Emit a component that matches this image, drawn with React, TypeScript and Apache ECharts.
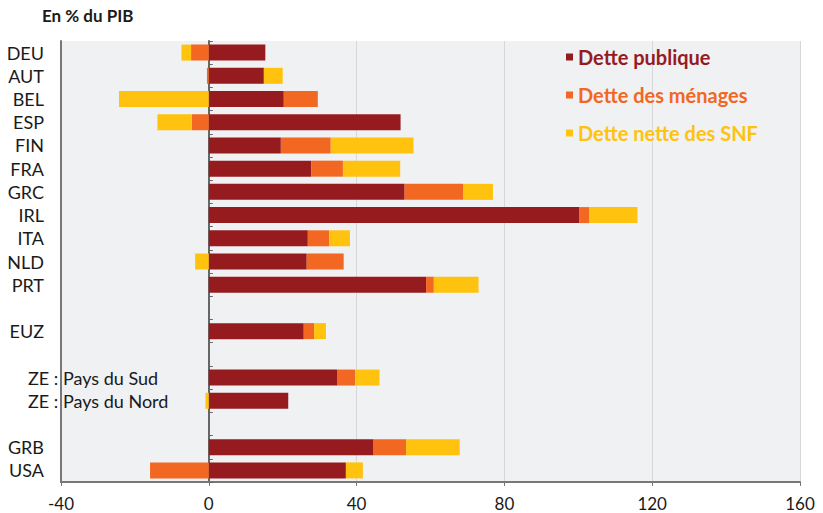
import React, { useEffect, useRef } from "react";
import * as echarts from "echarts";

const categories = [
  "DEU", "AUT", "BEL", "ESP", "FIN", "FRA", "GRC", "IRL", "ITA", "NLD", "PRT",
  " ", "EUZ", "  ", "ZE : Pays du Sud", "ZE : Pays du Nord", "   ", "GRB", "USA",
];

const dettePublique = [15.3, 14.9, 20.3, 51.9, 19.5, 27.7, 53.0, 100.2, 26.8, 26.5, 58.8, null, 25.7, null, 34.7, 21.5, null, 44.6, 37.1];
const detteMenages = [-4.8, -0.5, 9.2, -4.6, 13.5, 8.6, 15.8, 2.7, 5.8, 10.0, 2.1, null, 2.8, null, 4.9, 0, null, 8.8, -15.9];
const detteSNF = [-2.6, 5.1, -24.3, -9.3, 22.4, 15.5, 8.1, 13.1, 5.6, -3.7, 12.1, null, 3.2, null, 6.6, -0.9, null, 14.5, 4.6];

const seriesNames = ["Dette publique", "Dette des ménages", "Dette nette des SNF"];
const colors = ["#961B1F", "#F26722", "#FFC20E"];

const FONT = "Lato, 'DejaVu Sans', sans-serif";

export default function App() {
  const ref = useRef<HTMLDivElement>(null);

  useEffect(() => {
    if (!ref.current) return;
    const chart = echarts.init(ref.current, null, { renderer: "svg" });
    const dataSets = [dettePublique, detteMenages, detteSNF];
    chart.setOption({
      animation: false,
      textStyle: { fontFamily: FONT },
      title: {
        text: "En % du PIB",
        left: 42,
        top: 7,
        padding: 0,
        textStyle: { fontSize: 17, fontWeight: "bold", color: "#1a1a1a", fontFamily: FONT },
      },
      legend: {
        orient: "vertical",
        left: 566,
        top: 47,
        padding: 0,
        itemGap: 18,
        itemWidth: 7,
        itemHeight: 7,
        icon: "rect",
        data: seriesNames.map((n, i) => ({
          name: n,
          textStyle: { color: colors[i] },
        })),
        textStyle: { fontSize: 20, fontWeight: "bold", fontFamily: FONT },
      },
      grid: {
        left: 61,
        right: 23,
        top: 41,
        bottom: 31,
        show: true,
        backgroundColor: "#F0F1F3",
        borderWidth: 0,
      },
      xAxis: {
        type: "value",
        min: -40,
        max: 160,
        interval: 40,
        axisLine: { show: true, onZero: false, lineStyle: { color: "#777", width: 2 } },
        axisTick: { show: true, length: 4, lineStyle: { color: "#777" } },
        axisLabel: { fontSize: 17, color: "#1a1a1a", margin: 13, fontFamily: FONT },
        splitLine: { show: true, lineStyle: { color: "#D6D7DA", width: 1 } },
      },
      yAxis: [
        {
          type: "category",
          data: categories,
          inverse: true,
          axisLine: { show: true, onZero: true, lineStyle: { color: "#666", width: 2 } },
          axisTick: { show: true, inside: true, length: 4, interval: 0, lineStyle: { color: "#666" } },
          axisLabel: { show: false },
          splitLine: { show: false },
        },
        {
          type: "category",
          data: categories,
          inverse: true,
          position: "left",
          axisLine: { show: true, onZero: false, lineStyle: { color: "#777", width: 2 } },
          axisTick: { show: false },
          axisLabel: {
            fontSize: 18,
            color: "#1a1a1a",
            margin: 17,
            interval: 0,
            padding: [0, 0, 4, 0],
            fontFamily: FONT,
            formatter: (v: string) => (v.startsWith("ZE") ? "" : v),
          },
          splitLine: { show: false },
        },
        {
          type: "category",
          data: categories,
          inverse: true,
          position: "left",
          axisLine: { show: false, onZero: false },
          axisTick: { show: false },
          axisLabel: {
            fontSize: 18,
            color: "#1a1a1a",
            margin: 33,
            interval: 0,
            align: "left",
            padding: [0, 0, 3, 0],
            fontFamily: FONT,
            formatter: (v: string) => (v.startsWith("ZE") ? v : ""),
          },
          splitLine: { show: false },
        },
      ],
      series: seriesNames.map((n, i) => ({
        name: n,
        type: "bar",
        stack: "total",
        yAxisIndex: 0,
        barWidth: 16,
        itemStyle: { color: colors[i] },
        data: dataSets[i],
      })),
    });
    return () => chart.dispose();
  }, []);

  return (
    <div
      ref={ref}
      style={{ position: "fixed", left: 0, top: 0, width: 823, height: 513, background: "#fff" }}
    />
  );
}
